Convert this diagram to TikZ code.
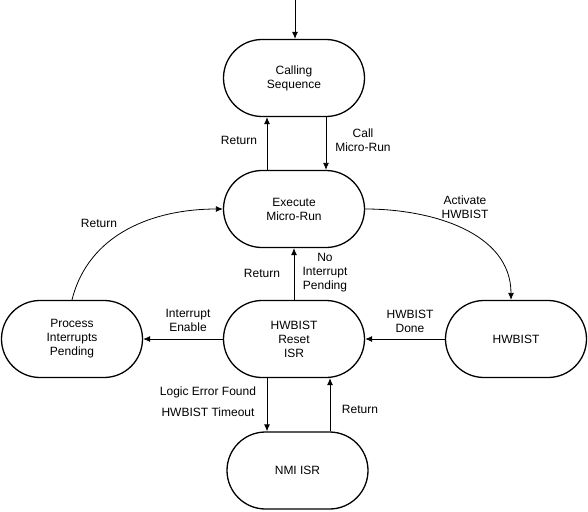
\documentclass[tikz,border=0pt]{standalone}
\usepackage{fontspec}
\setmainfont{Liberation Sans}
\usetikzlibrary{arrows.meta}
\begin{document}
\begin{tikzpicture}[x=1pt,y=-1pt, font=\fontsize{12}{14}\selectfont,
 state/.style={draw, line width=1.3pt, rounded corners=38.5pt, minimum width=141pt, minimum height=77pt, align=center, inner sep=0pt},
 arr/.style={-{Latex[length=7pt,width=6pt]}, line width=0.8pt},
 lbl/.style={align=center, inner sep=0pt}]
\useasboundingbox (0,0) rectangle (588,511);
\node[state] (call) at (294,78) {Calling\\Sequence};
\node[state] (exec) at (294,209) {Execute\\Micro-Run};
\node[state] (reset) at (294,339) {HWBIST\\Reset\\ISR};
\node[state] (proc) at (72,339) {Process\\Interrupts\\Pending};
\node[state] (hw) at (516,339) {HWBIST};
\node[state] (nmi) at (297.5,470.5) {NMI ISR};
\coordinate (top) at (295,0);
\draw[arr] (top) -- (top |- call.north);
\draw[arr] ([xshift=-27pt]exec.north) -- ([xshift=-27pt]call.south);
\draw[arr] ([xshift=32pt]call.south) -- ([xshift=32pt]exec.north);
\draw[arr] (exec.east) to[out=0,in=90] ([xshift=-5pt]hw.north);
\draw[arr] (proc.north) to[out=76,in=180] (exec.west);
\draw[arr] (reset.north) -- (exec.south);
\draw[arr] (reset.west) -- (proc.east);
\draw[arr] (hw.west) -- (reset.east);
\draw[arr] ([xshift=-27pt]reset.south) -- ([xshift=-27pt]reset.south |- nmi.north);
\draw[arr] ([xshift=36pt]reset.south |- nmi.north) -- ([xshift=36pt]reset.south);
\node[lbl] (l1) at (239,140) {Return};
\node[lbl] (l2) at (363,140) {Call\\Micro-Run};
\node[lbl] (l3) at (99,223) {Return};
\node[lbl] (l4) at (465,207) {Activate\\HWBIST};
\node[lbl] (l5) at (262,273) {Return};
\node[lbl] (l6) at (325,273) {No\\Interrupt\\Pending};
\node[lbl] (l7) at (188,320) {Interrupt\\Enable};
\node[lbl] (l8) at (410,321) {HWBIST\\Done};
\node[lbl] (l9) at (208,401.5) {Logic Error Found\\[7pt]HWBIST Timeout};
\node[lbl] (l10) at (360,409) {Return};
\end{tikzpicture}
\end{document}
